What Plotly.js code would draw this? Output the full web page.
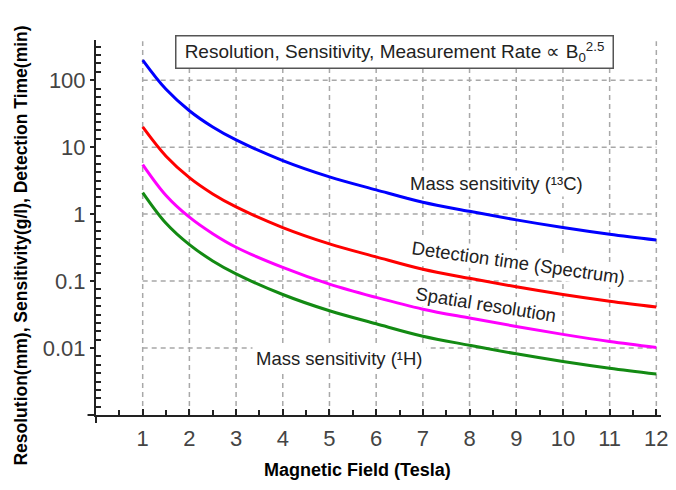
<!DOCTYPE html>
<html>
<head>
<meta charset="utf-8">
<script src="https://cdn.plot.ly/plotly-3.0.1.min.js"></script>
<style>html,body{margin:0;padding:0;background:#fff;}#chart{width:676px;height:490px;}</style>
</head>
<body>
<div id="chart"></div>
<script>
// Magnetic field (Tesla)
var field = [1, 1.5, 2, 2.5, 3, 4, 5, 6, 7, 8, 9, 10, 11, 12];
// Values
var massSens13C  = [200, 73, 35, 20, 12.8, 6.3, 3.6, 2.3, 1.5, 1.1, 0.82, 0.63, 0.5, 0.41];
var detectTime   = [20, 7.3, 3.5, 2.0, 1.28, 0.63, 0.36, 0.23, 0.15, 0.11, 0.082, 0.063, 0.05, 0.041];
var spatialRes   = [5.5, 1.9, 0.9, 0.51, 0.32, 0.16, 0.09, 0.057, 0.038, 0.028, 0.021, 0.016, 0.0125, 0.0102];
var massSens1H   = [2.1, 0.73, 0.35, 0.2, 0.128, 0.063, 0.036, 0.023, 0.015, 0.011, 0.0082, 0.0063, 0.005, 0.0041];

var xTicks = [1, 2, 3, 4, 5, 6, 7, 8, 9, 10, 11, 12];
var yTicks = [0.01, 0.1, 1, 10, 100];
var yTickText = ['0.01', '0.1', '1', '10', '100'];

// grid lines (from x=1 to x=12)
var gx = [], gy = [];
yTicks.forEach(function(v){ gx.push(xTicks[0], xTicks[xTicks.length-1], null); gy.push(v, v, null); });
var vx = [], vy = [];
xTicks.forEach(function(v){ vx.push(v, v, null); vy.push(0.001, 380, null); });

// minor ticks evenly spaced in log space (7 per decade)
var minorVals = [];
for (var n = -3; n <= 2; n++) for (var j = 1; j <= 7; j++) { var v = Math.pow(10, n + j/8); if (v < 400) minorVals.push(v); }

var gridStyle = {color: '#a8a8a8', width: 1.5, dash: '5px,4px'};
var traces = [
  {x: gx, y: gy, mode: 'lines', line: gridStyle, hoverinfo: 'skip', showlegend: false},
  {x: vx, y: vy, mode: 'lines', line: gridStyle, hoverinfo: 'skip', showlegend: false},
  {x: field, y: massSens13C, mode: 'lines', line: {color: '#0000ff', width: 3, shape: 'spline'}, name: 'Mass sensitivity (13C)'},
  {x: field, y: detectTime, mode: 'lines', line: {color: '#ff0000', width: 3, shape: 'spline'}, name: 'Detection time (Spectrum)'},
  {x: field, y: spatialRes, mode: 'lines', line: {color: '#ff00ff', width: 3, shape: 'spline'}, name: 'Spatial resolution'},
  {x: field, y: massSens1H, mode: 'lines', line: {color: '#138a13', width: 3, shape: 'spline'}, name: 'Mass sensitivity (1H)'}
];

var lblFont = {family: 'Liberation Sans, Arial, sans-serif', size: 18.5, color: '#222'};
function ann(o){ o.showarrow = false; o.xanchor = 'center'; o.yanchor = 'middle'; return o; }
var layout = {
  width: 676, height: 490,
  margin: {l: 96, r: 15, t: 40, b: 75},
  paper_bgcolor: '#fff', plot_bgcolor: '#fff',
  showlegend: false,
  font: {family: 'Liberation Sans, Arial, sans-serif'},
  xaxis: {
    range: [0, 12.1], showgrid: false, zeroline: false,
    showline: true, linecolor: '#222', linewidth: 2,
    tickvals: xTicks, ticks: 'inside', ticklen: 6, tickwidth: 2, tickcolor: '#222',
    ticklabelstandoff: 3,
    tickfont: {size: 22, color: '#444'},
    minor: {tick0: 0.5, dtick: 1, ticks: 'inside', ticklen: 5, tickwidth: 2, tickcolor: '#222', showgrid: false}
  },
  yaxis: {
    type: 'log', range: [-3, 2.6], showgrid: false, zeroline: false,
    showline: true, linecolor: '#222', linewidth: 2,
    tickvals: yTicks, ticktext: yTickText, ticks: 'outside', ticklen: 4, tickwidth: 2, tickcolor: '#222',
    tickfont: {size: 22, color: '#444'},
    minor: {tickvals: minorVals, ticks: 'inside', ticklen: 5, tickwidth: 2, tickcolor: '#222', showgrid: false}
  },
  shapes: [
    {type: 'line', xref: 'paper', yref: 'paper', x0: -0.015, x1: 0, y0: 0, y1: 0, line: {color: '#222', width: 2}},
    {type: 'line', xref: 'paper', yref: 'paper', x0: 0, x1: 0, y0: -0.021, y1: 0, line: {color: '#222', width: 2}}
  ],
  annotations: [
    ann({xref: 'paper', yref: 'paper', x: 0.528, y: 0.969,
     text: 'Resolution, Sensitivity, Measurement Rate ∝ B<sub>0</sub><sup>2.5</sup>',
     font: {family: 'Liberation Sans, Arial, sans-serif', size: 19, color: '#222'},
     bgcolor: '#fff', bordercolor: '#555', borderwidth: 1.5, borderpad: 1, width: 434, height: 29}),
    ann({xref: 'x', yref: 'y', x: 8.57, y: 0.46, text: 'Mass sensitivity (¹³C)', font: lblFont, bgcolor: '#fff', borderpad: 2}),
    ann({xref: 'x', yref: 'y', x: 9.04, y: -0.72, text: 'Detection time (Spectrum)', textangle: 8, font: lblFont, bgcolor: '#fff', borderpad: 1}),
    ann({xref: 'x', yref: 'y', x: 8.35, y: -1.35, text: 'Spatial resolution', textangle: 9, font: lblFont, bgcolor: '#fff', borderpad: 1}),
    ann({xref: 'x', yref: 'y', x: 5.22, y: -2.155, text: 'Mass sensitivity (¹H)', font: lblFont, bgcolor: '#fff', borderpad: 3}),
    ann({xref: 'paper', yref: 'paper', x: -0.132, y: 0.453, textangle: -90,
     text: '<b>Resolution(mm), Sensitivity(g/l), Detection Time(min)</b>',
     font: {family: 'Liberation Sans, Arial, sans-serif', size: 17.5, color: '#000'}}),
    ann({xref: 'paper', yref: 'paper', x: 0.463, y: -0.147,
     text: '<b>Magnetic Field (Tesla)</b>',
     font: {family: 'Liberation Sans, Arial, sans-serif', size: 18, color: '#000'}})
  ]
};

Plotly.newPlot('chart', traces, layout, {displayModeBar: false, staticPlot: true});
</script>
</body>
</html>
